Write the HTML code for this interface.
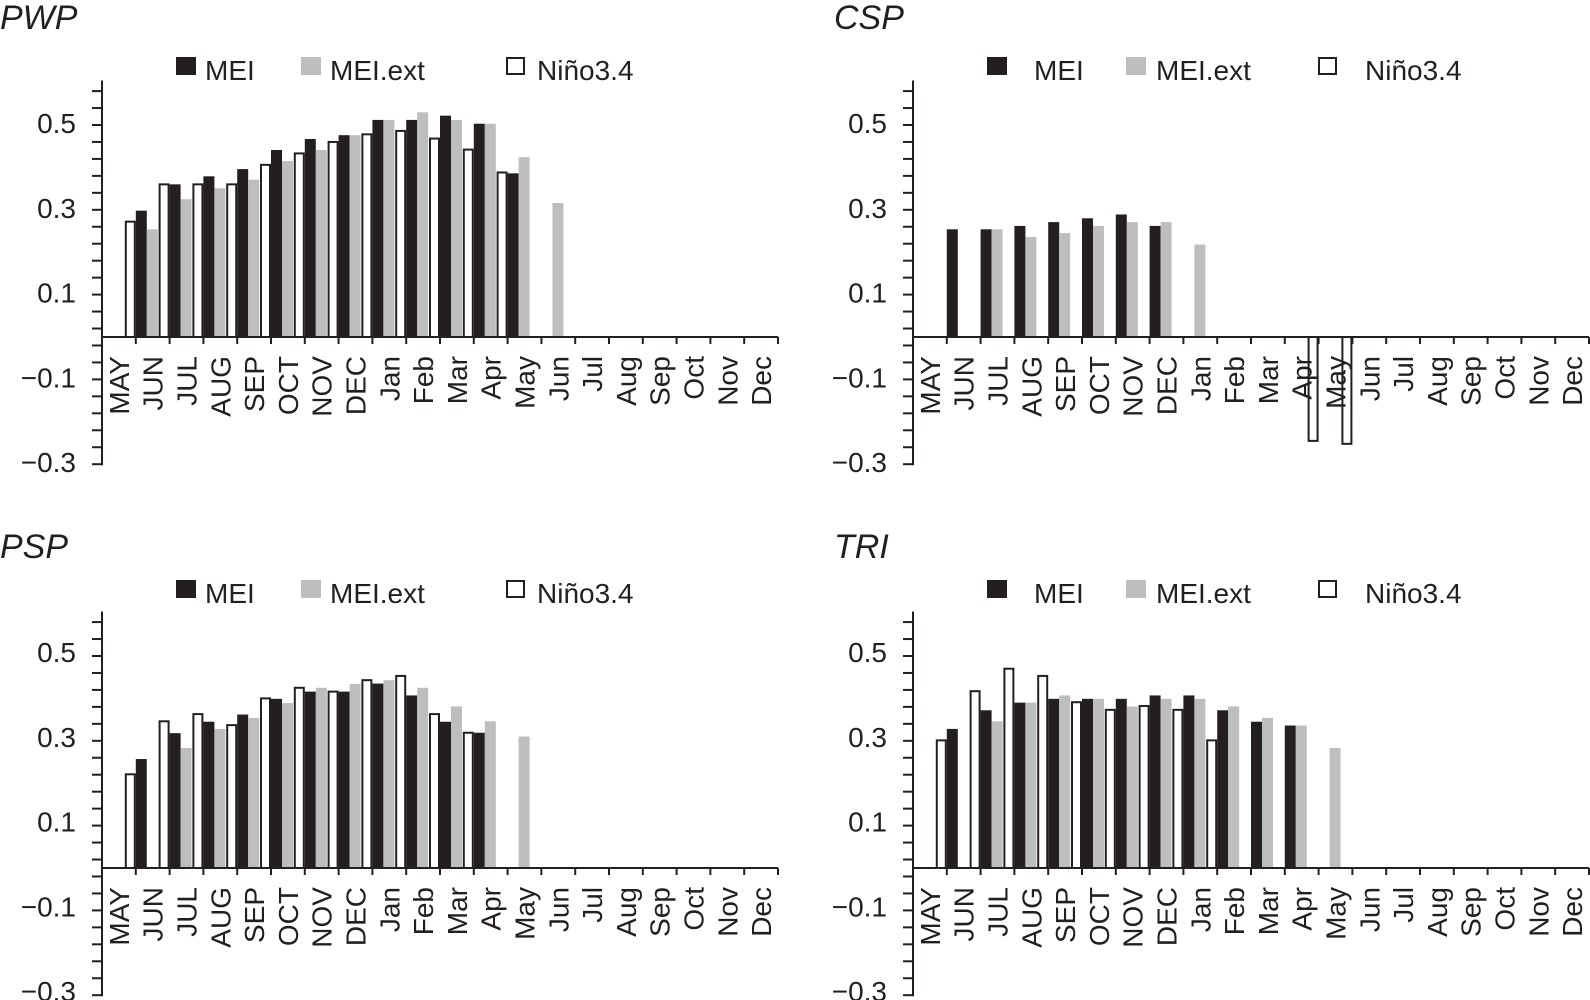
<!DOCTYPE html>
<html><head><meta charset="utf-8">
<style>
html,body{margin:0;padding:0;background:#fff;}
svg{display:block;font-family:"Liberation Sans",Arial,sans-serif;}
</style></head>
<body>
<svg id="chart" width="1590" height="1000" viewBox="0 0 1590 1000" xmlns="http://www.w3.org/2000/svg"></svg>
<script>
const months = ["MAY","JUN","JUL","AUG","SEP","OCT","NOV","DEC","Jan","Feb","Mar","Apr","May","Jun","Jul","Aug","Sep","Oct","Nov","Dec"];
const yTicks = [0.5,0.3,0.1,-0.1,-0.3];
const yTickLabels = ["0.5","0.3","0.1","\u22120.1","\u22120.3"];
// values indexed by tick position k (0..19); null = no bar
const pwpNino = [null,0.272,0.360,0.360,0.360,0.406,0.433,0.460,0.478,0.486,0.468,0.442,0.388,null,null,null,null,null,null,null];
const pwpMei  = [null,0.298,0.360,0.379,0.396,0.441,0.467,0.476,0.512,0.512,0.522,0.503,0.386,null,null,null,null,null,null,null];
const pwpExt  = [null,0.254,0.325,0.351,0.371,0.415,0.441,0.476,0.512,0.530,0.512,0.503,0.424,0.316,null,null,null,null,null,null];
const cspNino = [null,null,null,null,null,null,null,null,null,null,null,null,-0.245,-0.252,null,null,null,null,null,null];
const cspMei  = [null,0.254,0.254,0.262,0.271,0.280,0.289,0.262,null,null,null,null,null,null,null,null,null,null,null,null];
const cspExt  = [null,null,0.254,0.236,0.245,0.262,0.271,0.271,0.218,null,null,null,null,null,null,null,null,null,null,null];
const pspNino = [null,0.221,0.346,0.363,0.337,0.400,0.425,0.416,0.443,0.453,0.363,0.319,null,null,null,null,null,null,null,null];
const pspMei  = [null,0.257,0.318,0.345,0.362,0.399,0.416,0.416,0.435,0.407,0.345,0.319,null,null,null,null,null,null,null,null];
const pspExt  = [null,null,0.283,0.328,0.354,0.389,0.425,0.434,0.443,0.425,0.381,0.346,0.310,null,null,null,null,null,null,null];
const triNino = [null,0.301,0.417,0.470,0.453,0.391,0.373,0.382,0.373,0.301,null,null,null,null,null,null,null,null,null,null];
const triMei  = [null,0.328,0.372,0.390,0.399,0.399,0.399,0.407,0.407,0.372,0.345,0.336,null,null,null,null,null,null,null,null];
const triExt  = [null,null,0.346,0.390,0.407,0.399,0.381,0.399,0.399,0.381,0.354,0.336,0.283,null,null,null,null,null,null,null];

const NS="http://www.w3.org/2000/svg";
const svg=document.getElementById('chart');
function mk(tag,attrs,parent){const e=document.createElementNS(NS,tag);for(const k in attrs)e.setAttribute(k,attrs[k]);(parent||svg).appendChild(e);return e;}

const CELL=33.8, SCALE=424;
function panel(name,title,ox,zeroY,titleX,titleY,legY,legXs,labOff,nino,mei,ext){
  const g=mk('g',{});
  
  
  const xT=k=>ox+CELL*k;
  const yV=v=>zeroY-v*SCALE;
  const t=mk('text',{x:titleX,y:titleY,'font-size':34,'font-style':'italic',fill:'#231f20'},g);
  t.textContent=title;
  
  
  const legItems=[["MEI","#231f20",null],["MEI.ext","#bcbec0",null],["Niño3.4","#fff","#231f20"]];
  legItems.forEach((it,i)=>{
    const lg=mk('g',{},g);
    
    
    const lx=legXs[i][0];
    if(it[2]) mk('rect',{x:lx+1,y:legY-22,width:17,height:16,fill:it[1],stroke:it[2],'stroke-width':2},lg);
    else mk('rect',{x:lx,y:legY-23,width:20,height:18,fill:it[1]},lg);
    const tx=mk('text',{x:legXs[i][1],y:legY,'font-size':28,fill:'#231f20'},lg);
    tx.textContent=it[0];
  });
  const ax=mk('g',{},g);
  
  
  const top=yV(0.605), bot=yV(-0.3);
  mk('line',{x1:ox,y1:top,x2:ox,y2:bot+1,stroke:'#231f20','stroke-width':2},ax);
  for(let i=0;i<=22;i++){const v=0.58-0.04*i;mk('line',{x1:ox-10,y1:yV(v),x2:ox,y2:yV(v),stroke:'#231f20','stroke-width':2},ax);}
  yTicks.forEach((v,i)=>{const tx=mk('text',{x:ox-26,y:yV(v)+labOff,'font-size':28,'text-anchor':'end',fill:'#231f20'},ax);tx.textContent=yTickLabels[i];});
  const bars=mk('g',{},g);
  
  
  for(let k=0;k<20;k++){
    const tk=xT(k);
    if(mei[k]!=null){const y1=yV(mei[k]);const r=mk('rect',{x:tk,y:Math.min(y1,zeroY),width:11,height:Math.abs(zeroY-y1),fill:'#231f20'},bars);
      
      }
    if(ext[k]!=null){const y1=yV(ext[k]);const r=mk('rect',{x:tk+11,y:Math.min(y1,zeroY),width:11,height:Math.abs(zeroY-y1),fill:'#bcbec0'},bars);
      
      }
    if(nino[k]!=null){const y1=yV(nino[k]);const r=mk('rect',{x:tk-10,y:Math.min(y1,zeroY),width:9,height:Math.abs(zeroY-y1),fill:'#fff',stroke:'#231f20','stroke-width':2},bars);
      
      }
  }
  const xa=mk('g',{},g);
  
  
  mk('line',{x1:ox,y1:zeroY,x2:Math.min(xT(20),1590),y2:zeroY,stroke:'#231f20','stroke-width':2},xa);
  for(let k=0;k<=20;k++){mk('line',{x1:xT(k),y1:zeroY,x2:xT(k),y2:zeroY+7,stroke:'#231f20','stroke-width':2},xa);}
  months.forEach((m,i)=>{
    const cx=xT(i)+CELL/2+10, cy=zeroY+19;
    const tx=mk('text',{x:cx,y:cy,'font-size':28,'text-anchor':'end',fill:'#231f20',transform:`rotate(-90 ${cx} ${cy})`},xa);
    tx.textContent=m;
  });
}
panel('pwp','PWP',102,337,0,29,80,[[176,205],[301,330],[506,537]],8,pwpNino,pwpMei,pwpExt);
panel('csp','CSP',913,337,834,29,80,[[987,1034],[1126,1156],[1318,1365]],8,cspNino,cspMei,cspExt);
panel('psp','PSP',102,868,0,558,603,[[176,205],[301,330],[506,537]],6,pspNino,pspMei,pspExt);
panel('tri','TRI',913,868,834,558,603,[[987,1034],[1126,1156],[1318,1365]],6,triNino,triMei,triExt);
</script>
</body></html>
